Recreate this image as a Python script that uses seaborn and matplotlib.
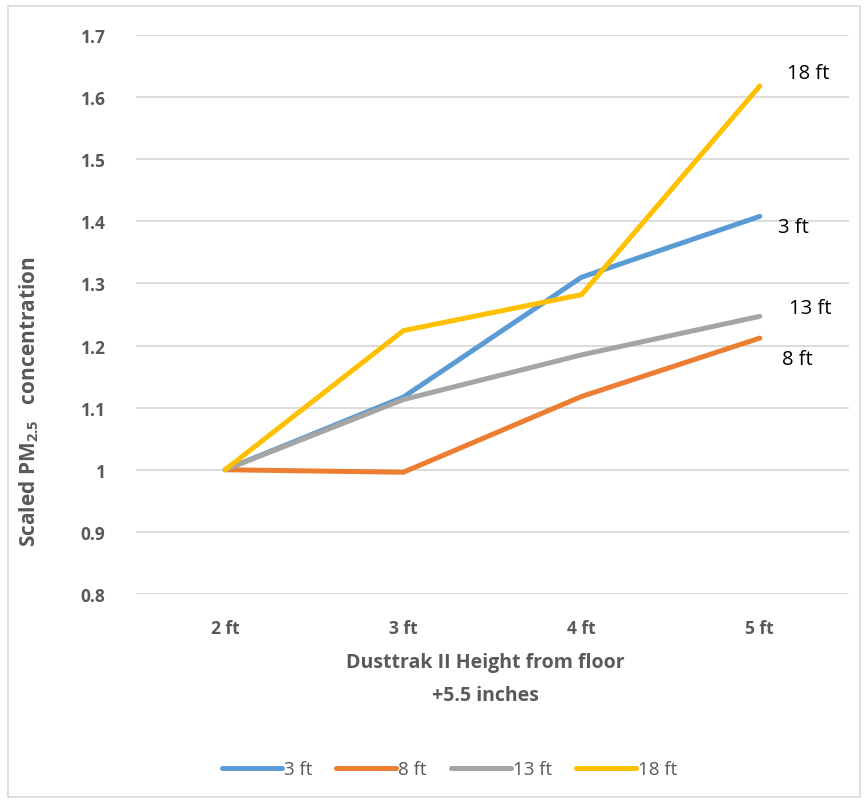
import pandas as pd
import numpy as np
import matplotlib
matplotlib.use('Agg')
import matplotlib.pyplot as plt
from matplotlib.lines import Line2D
from matplotlib.patches import Rectangle
import seaborn as sns

# data
heights = ['2 ft', '3 ft', '4 ft', '5 ft']
series = ['3 ft', '8 ft', '13 ft', '18 ft']
vals_3ft = [1.0, 1.117, 1.31, 1.408]
vals_8ft = [1.0, 0.996, 1.118, 1.212]
vals_13ft = [1.0, 1.113, 1.185, 1.247]
vals_18ft = [1.0, 1.224, 1.282, 1.618]
colors = ['#5B9BD5', '#ED7D31', '#A5A5A5', '#FFC000']

sns.set_style('white')
plt.rcParams['font.family'] = ['Open Sans', 'DejaVu Sans']
plt.rcParams['mathtext.fontset'] = 'custom'
plt.rcParams['mathtext.rm'] = 'Open Sans:bold'
plt.rcParams['mathtext.default'] = 'rm'

rows = []
for name, vals in zip(series, [vals_3ft, vals_8ft, vals_13ft, vals_18ft]):
    for h, v in zip(heights, vals):
        rows.append({'Height': h, 'Value': v, 'Series': name})
df = pd.DataFrame(rows)

fig = plt.figure(figsize=(8.68, 8.04), dpi=100)
ax = fig.add_axes([0.1567, 0.260, 0.8213, 0.6952])

sns.lineplot(data=df, x='Height', y='Value', hue='Series', palette=colors,
             hue_order=series, linewidth=3.6, sort=False, legend=False, ax=ax,
             solid_capstyle='round')

ax.set_xlim(-0.5, 3.5)
ax.set_ylim(0.8, 1.7)
ax.set_yticks(np.arange(0.8, 1.71, 0.1))
ax.set_yticklabels(['0.8', '0.9', '1', '1.1', '1.2', '1.3', '1.4', '1.5', '1.6', '1.7'])
ax.grid(axis='y', color='#D9D9D9', linewidth=1.3)
ax.set_axisbelow(True)
for s in ax.spines.values():
    s.set_visible(False)
ax.tick_params(axis='both', length=0, labelsize=12.5, labelcolor='#595959')
for lab in ax.get_xticklabels() + ax.get_yticklabels():
    lab.set_fontweight('bold')
ax.tick_params(axis='y', pad=22)
ax.tick_params(axis='x', pad=18)

ax.set_xlabel('Dusttrak II Height from floor\n+5.5 inches', fontsize=14,
              fontweight='bold', color='#595959', linespacing=1.85)
ax.xaxis.set_label_coords(0.49, -0.104)
ax.set_ylabel('Scaled PM$_{2.5}$   concentration', fontsize=15,
              fontweight='bold', color='#595959')
ax.yaxis.set_label_coords(-0.133, 0.346)

# end labels
offsets = {'18 ft': (35, 9), '3 ft': (24, -8), '13 ft': (36, 6), '8 ft': (27, -15)}
for name, vals in zip(series, [vals_3ft, vals_8ft, vals_13ft, vals_18ft]):
    ax.annotate(name, xy=(3, vals[-1]), xytext=offsets[name], textcoords='offset points',
                ha='center', va='center', fontsize=14.5, color='black')

handles = [Line2D([0], [0], color=c, linewidth=3.6, solid_capstyle='round') for c in colors]
fig.legend(handles, series, loc='center', bbox_to_anchor=(0.518, 0.042), ncol=4,
           frameon=False, fontsize=13.5, labelcolor='#595959', handlelength=3.2,
           handletextpad=0.1, columnspacing=1.3)

fig.patches.append(Rectangle((0.009, 0.008), 0.982, 0.983, transform=fig.transFigure,
                             fill=False, edgecolor='#D9D9D9', linewidth=1.2))

plt.savefig('out.png', dpi=100)
